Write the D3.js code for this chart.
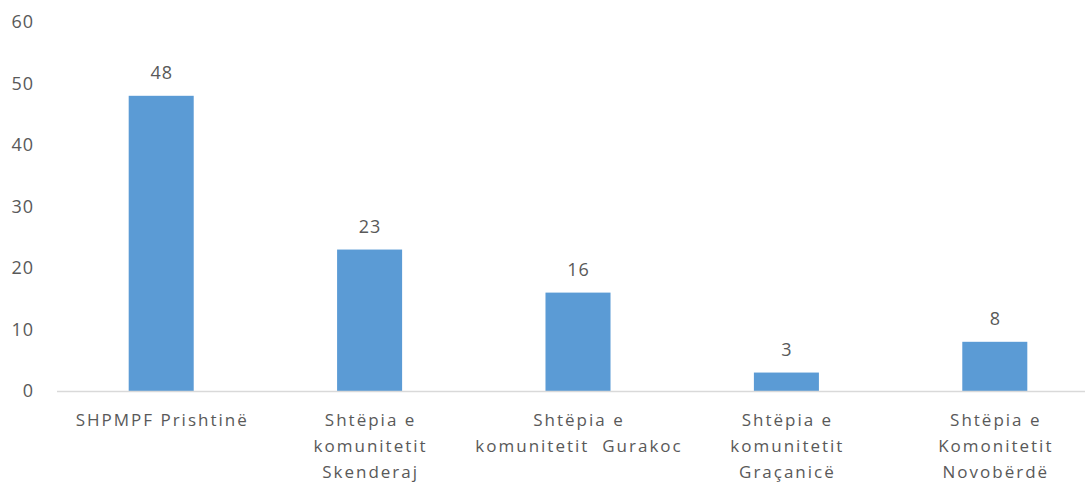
<!DOCTYPE html>
<html>
<head>
<meta charset="utf-8">
<script src="https://cdn.jsdelivr.net/npm/d3@7"></script>
<style>
  body { margin: 0; background: #fff; }
  text { font-family: "Open Sans", sans-serif; fill: #595959; }
</style>
</head>
<body>
<div id="chart"></div>
<script>
// Bar chart - categories and counts
const categories = [
  ["SHPMPF Prishtinë"],
  ["Shtëpia e", "komunitetit", "Skenderaj"],
  ["Shtëpia e", "komunitetit  Gurakoc"],
  ["Shtëpia e", "komunitetit", "Graçanicë"],
  ["Shtëpia e", "Komonitetit", "Novobërdë"]
];
const values = [48, 23, 16, 3, 8];
const yTicks = [0, 10, 20, 30, 40, 50, 60];

const W = 1085, H = 482;
const margin = { top: 22, left: 57 };
const plotW = 1042;   // plot runs past the right edge of the picture
const plotH = 369;

const svg = d3.select("#chart").append("svg")
  .attr("width", W).attr("height", H);

const g = svg.append("g")
  .attr("transform", `translate(${margin.left},${margin.top})`);

const x = d3.scaleBand()
  .domain(d3.range(values.length))
  .range([0, plotW])
  .paddingInner(0.688)
  .paddingOuter(0.344);

const y = d3.scaleLinear()
  .domain([0, 60])
  .range([plotH, 0]);

// Y tick labels (no axis line, no gridlines)
g.append("g")
  .selectAll("text")
  .data(yTicks)
  .join("text")
  .attr("x", -23)
  .attr("y", d => y(d))
  .attr("dy", "0.35em")
  .attr("text-anchor", "end")
  .style("font-size", "18px")
  .style("letter-spacing", "1px")
  .text(d => d);

// Bars
g.selectAll("rect.bar")
  .data(values)
  .join("rect")
  .attr("class", "bar")
  .attr("x", (d, i) => x(i))
  .attr("y", d => y(d))
  .attr("width", x.bandwidth())
  .attr("height", d => plotH - y(d))
  .attr("fill", "#5B9BD5");

// Baseline
g.append("line")
  .attr("x1", 0).attr("x2", plotW)
  .attr("y1", plotH + 0.5).attr("y2", plotH + 0.5)
  .attr("stroke", "#d9d9d9")
  .attr("stroke-width", 1.5);

// Value labels
g.selectAll("text.val")
  .data(values)
  .join("text")
  .attr("class", "val")
  .attr("x", (d, i) => x(i) + x.bandwidth() / 2 + 0.5)
  .attr("y", d => y(d) - 17)
  .attr("text-anchor", "middle")
  .style("font-size", "18px")
  .style("letter-spacing", "1px")
  .text(d => d);

// Category labels
const cat = g.selectAll("text.cat")
  .data(categories)
  .join("text")
  .attr("class", "cat")
  .attr("text-anchor", "middle")
  .attr("transform", (d, i) => `translate(${x(i) + x.bandwidth() / 2 + 1},${plotH + 35})`)
  .style("font-size", "17px")
  .style("letter-spacing", "2px");

cat.selectAll("tspan")
  .data(d => d)
  .join("tspan")
  .attr("x", 0)
  .attr("dy", (d, i) => i === 0 ? 0 : 26)
  .style("white-space", "pre")
  .text(d => d);
</script>
</body>
</html>
